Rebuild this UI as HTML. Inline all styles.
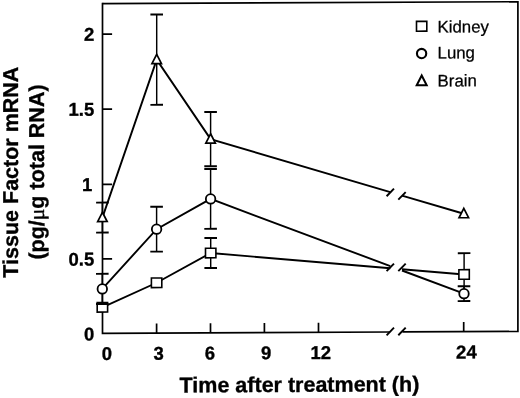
<!DOCTYPE html>
<html><head><meta charset="utf-8"><title>Tissue Factor mRNA</title>
<style>html,body{margin:0;padding:0;background:#fff}html{filter:grayscale(1)}body{width:520px;height:398px;overflow:hidden}svg{display:block}text{font-family:"Liberation Sans",sans-serif;fill:#000}.b{font-weight:bold}</style></head><body>
<svg width="520" height="398" viewBox="0 0 520 398">
<rect width="520" height="398" fill="#fff"/>
<g transform="matrix(1 -0.00450 0 1 0 0.4612)" stroke="#000" fill="none" stroke-linecap="butt">
<g stroke-width="1.7">
<path d="M402.5 333.3 H517.9 V3.6 H102.5" stroke-linejoin="miter"/>
<path d="M102.5 2.75 V333.3 H390.2" stroke-linejoin="miter"/>
<path d="M156.6 333.3 v-9.6"/>
<path d="M210.5 333.3 v-9.6"/>
<path d="M264.4 333.3 v-9.6"/>
<path d="M318.5 333.3 v-9.6"/>
<path d="M463.7 333.3 v-9.6"/>
<path d="M102.5 34.1 h9.6"/>
<path d="M102.5 109.1 h9.6"/>
<path d="M102.5 184.4 h9.6"/>
<path d="M102.5 258.9 h9.6"/>
</g>
<path d="M386.6 336.6 l7.4 -7.6" stroke-width="1.9"/>
<path d="M398.3 336.6 l7.4 -7.6" stroke-width="1.9"/>
<path d="M102.4 307.3 L156.6 283 L210.7 253.5 L390.3 269.52 M402 270.56 L464.1 276.1" stroke-width="1.9" stroke-linejoin="miter"/>
<path d="M210.7 238.5 V268.5" stroke-width="1.45"/>
<path d="M204.4 238.5 h12.6" stroke-width="1.9"/>
<path d="M204.4 268.5 h12.6" stroke-width="1.9"/>
<path d="M464.1 254.8 V276.1" stroke-width="1.45"/>
<path d="M457.8 254.8 h12.6" stroke-width="1.9"/>
<path d="M464.1 276.1 V290" stroke-width="1.45"/>
<rect x="97.2" y="302.5" width="10.4" height="9.6" fill="#fff" stroke-width="1.6"/>
<rect x="151.4" y="278.2" width="10.4" height="9.6" fill="#fff" stroke-width="1.6"/>
<rect x="205.5" y="248.7" width="10.4" height="9.6" fill="#fff" stroke-width="1.6"/>
<rect x="458.9" y="271.3" width="10.4" height="9.6" fill="#fff" stroke-width="1.6"/>
<path d="M102.3 288.9 L156.6 229.4 L210.6 199.4 L390.3 267.41 M402 271.84 L464 295.3" stroke-width="1.9" stroke-linejoin="miter"/>
<path d="M386.6 272.46 l7.4 -7.6" stroke-width="1.9"/>
<path d="M398.3 272.51 l7.4 -7.6" stroke-width="1.9"/>
<path d="M102.3 273.8 V304" stroke-width="1.45"/>
<path d="M96 273.8 h12.6" stroke-width="1.9"/>
<path d="M96 304 h12.6" stroke-width="1.9"/>
<path d="M156.6 206.95 V251.85" stroke-width="1.45"/>
<path d="M150.3 206.95 h12.6" stroke-width="1.9"/>
<path d="M150.3 251.85 h12.6" stroke-width="1.9"/>
<path d="M210.6 169.5 V229.3" stroke-width="1.45"/>
<path d="M204.3 169.5 h12.6" stroke-width="1.9"/>
<path d="M204.3 229.3 h12.6" stroke-width="1.9"/>
<path d="M464 287.9 V302.7" stroke-width="1.45"/>
<path d="M457.7 287.9 h12.6" stroke-width="1.9"/>
<path d="M457.7 302.7 h12.6" stroke-width="1.9"/>
<circle cx="102.3" cy="288.9" r="4.75" fill="#fff" stroke-width="1.8"/>
<circle cx="156.6" cy="229.4" r="4.75" fill="#fff" stroke-width="1.8"/>
<circle cx="210.6" cy="199.4" r="4.75" fill="#fff" stroke-width="1.8"/>
<circle cx="464" cy="295.3" r="4.75" fill="#fff" stroke-width="1.8"/>
<path d="M102.4 217.6 L156.7 59.9 L210.6 139.6 L390.3 193.4 M402 196.9 L463.8 215.4" stroke-width="1.9" stroke-linejoin="miter"/>
<path d="M386.6 197.5 l7.4 -7.6" stroke-width="1.9"/>
<path d="M398.3 201 l7.4 -7.6" stroke-width="1.9"/>
<path d="M102.4 202.6 V232.6" stroke-width="1.45"/>
<path d="M96.1 202.6 h12.6" stroke-width="1.9"/>
<path d="M96.1 232.6 h12.6" stroke-width="1.9"/>
<path d="M156.7 14.75 V105.05" stroke-width="1.45"/>
<path d="M150.4 14.75 h12.6" stroke-width="1.9"/>
<path d="M150.4 105.05 h12.6" stroke-width="1.9"/>
<path d="M210.6 112.5 V166.7" stroke-width="1.45"/>
<path d="M204.3 112.5 h12.6" stroke-width="1.9"/>
<path d="M204.3 166.7 h12.6" stroke-width="1.9"/>
<path d="M102.4 212.25 L107.16 221.55 L97.64 221.55 Z" fill="#fff" stroke-width="1.7" stroke-linejoin="miter"/>
<path d="M156.7 54.55 L161.46 63.85 L151.94 63.85 Z" fill="#fff" stroke-width="1.7" stroke-linejoin="miter"/>
<path d="M210.6 134.25 L215.36 143.55 L205.84 143.55 Z" fill="#fff" stroke-width="1.7" stroke-linejoin="miter"/>
<path d="M463.8 210.05 L468.56 219.35 L459.04 219.35 Z" fill="#fff" stroke-width="1.7" stroke-linejoin="miter"/>
<rect x="416.5" y="22.8" width="10.3" height="9.8" stroke-width="1.6"/>
<circle cx="421.6" cy="55.0" r="4.65" stroke-width="2.1"/>
<path d="M421.7 77.0 L426.7 86.75 L416.7 86.75 Z" stroke-width="2" stroke-linejoin="miter"/>
</g>
<g transform="matrix(1 -0.00450 0 1 0 0.4612)" stroke="#000" stroke-width="0.35" stroke-linejoin="round">
<g class="b" font-size="18.5" text-anchor="end">
<text x="94.2" y="40.7">2</text>
<text x="94.2" y="115.7">1.5</text>
<text x="92.2" y="191">1</text>
<text x="94.2" y="265.5">0.5</text>
<text x="94.2" y="340.4">0</text>
</g>
<g class="b" font-size="18.5" text-anchor="middle">
<text x="107" y="360.0">0</text>
<text x="158.6" y="360.0">3</text>
<text x="210" y="360.0">6</text>
<text x="266.2" y="360.0">9</text>
<text x="320.7" y="360.0">12</text>
<text x="466.4" y="360.0">24</text>
</g>
<text class="b" font-size="21.5" x="179.6" y="392.75">Time after treatment (h)</text>
<text class="b" font-size="21.5" transform="translate(17.9 277.3) rotate(-90)">Tissue Factor mRNA</text>
<text class="b" font-size="21.5" transform="translate(43.6 259.3) rotate(-90)">(pg/<tspan font-family="Liberation Serif" font-weight="normal">μ</tspan>g total RNA)</text>
<g font-size="16.8" stroke-width="0.25">
<text x="437.6" y="34.1">Kidney</text>
<text x="437.6" y="60.0">Lung</text>
<text x="437.6" y="88.0">Brain</text>
</g></g>
</svg></body></html>
